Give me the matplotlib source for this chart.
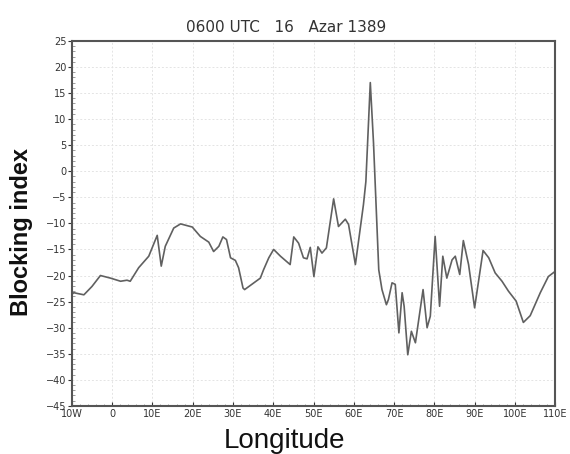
import matplotlib.pyplot as plt
import numpy as np
from matplotlib.ticker import MultipleLocator

# longitude (deg, negative = west) and blocking index
lon = [-10, -9.5, -7, -5, -2.9, -0.4, 2.1, 3.7, 4.5, 6.6, 9.1, 11.2, 12.2, 13.2,
       15.3, 17, 19.9, 21.9, 24, 25.2, 26.5, 27.5, 28.4, 29.4, 30.6, 31.4, 32.5,
       32.9, 36.8, 37.6, 38.9, 40.1, 41.8, 44.2, 45.1, 46.3, 47.5, 48.4, 49.2,
       50.1, 51.1, 52.1, 53.2, 55, 56.2, 57.9, 58.7, 60.4, 62.4, 63, 64.1, 64.9,
       66.2, 67, 68.1, 68.6, 69.5, 70.3, 71.2, 72, 72.5, 73.4, 74.3, 75.3, 77.2,
       78.2, 79, 80.2, 81.3, 82.1, 83.1, 84.4, 85.2, 86.3, 87.2, 88.5, 90, 92.1,
       93.5, 95.1, 96.8, 98.4, 100.3, 102.1, 103.8, 106.3, 108.3, 110]
blocking = [-23.6, -23.3, -23.7, -22.1, -20, -20.5, -21.1, -20.9, -21.1, -18.5,
            -16.3, -12.3, -18.2, -14.4, -10.9, -10.1, -10.7, -12.5, -13.6, -15.4,
            -14.4, -12.6, -13.1, -16.6, -17.1, -18.5, -22.4, -22.7, -20.5, -18.9,
            -16.6, -15, -16.3, -17.9, -12.6, -13.8, -16.6, -16.8, -14.6, -20.2,
            -14.5, -15.7, -14.7, -5.3, -10.6, -9.2, -10.2, -17.9, -6.4, -2, 17.0,
            5.4, -18.9, -22.7, -25.6, -24.6, -21.4, -21.7, -31, -23.3, -25.9,
            -35.2, -30.7, -32.9, -22.7, -30, -27.8, -12.5, -25.9, -16.3, -20.5,
            -17, -16.3, -19.8, -13.3, -17.9, -26.2, -15.2, -16.6, -19.5, -21.1,
            -23, -24.9, -29, -27.7, -23.3, -20.2, -19.2]

xticks = list(range(-10, 111, 10))
xlabels = ['10W', '0', '10E', '20E', '30E', '40E', '50E', '60E', '70E', '80E',
           '90E', '100E', '110E']
yticks = list(range(-45, 26, 5))

fig = plt.figure(figsize=(5.70, 4.54), dpi=100)
ax = fig.add_axes([0.126, 0.106, 0.848, 0.804])

ax.plot(lon, blocking, color='#606060', lw=1.2)

ax.set_xlim(-10, 110)
ax.set_ylim(-45, 25)
ax.set_xticks(xticks)
ax.set_xticklabels(xlabels)
ax.set_yticks(yticks)
ax.set_yticklabels([str(v).replace('-', '\u2212') for v in yticks])
ax.yaxis.set_minor_locator(MultipleLocator(1))
ax.xaxis.set_minor_locator(MultipleLocator(2))

ax.grid(True, color='#e4e4e4', lw=0.7, ls=(0, (2, 2)))
ax.tick_params(axis='y', which='major', direction='out', length=3, width=0.8,
               labelsize=7, pad=1, colors='#333333')
ax.tick_params(axis='y', which='minor', direction='in', length=2, width=0.5,
               colors='#777777')
ax.tick_params(axis='x', which='major', direction='in', length=3, width=0.8,
               labelsize=7, pad=2, colors='#333333')
ax.tick_params(axis='x', which='minor', direction='in', length=1.5, width=0.5,
               colors='#777777')
for s in ax.spines.values():
    s.set_color('#555555')
    s.set_linewidth(1.5)

fig.text(0.502, 0.94, '0600 UTC   16   Azar 1389', ha='center', va='center',
         fontsize=11, color='#333333')
fig.text(0.037, 0.488, 'Blocking index', rotation=90, ha='center', va='center',
         fontsize=17, fontweight='bold', family='Liberation Sans', color='#111111')
fig.text(0.50, 0.028, 'Longitude', ha='center', va='center',
         fontsize=20, family='Liberation Sans', color='#111111')

fig.savefig('out.png', dpi=100)
